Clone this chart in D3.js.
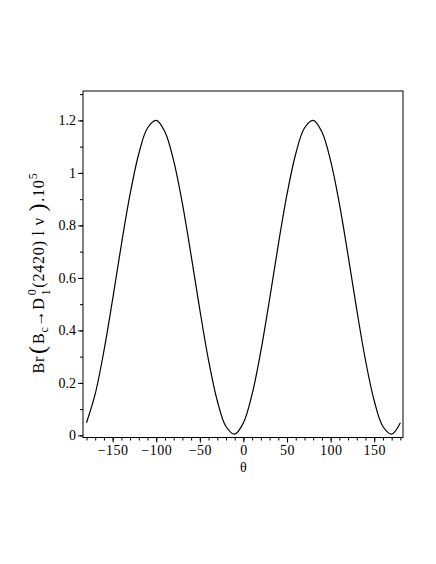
<!DOCTYPE html>
<html>
<head>
<meta charset="utf-8">
<script src="https://cdn.jsdelivr.net/npm/d3@7"></script>
<style>
  body { margin: 0; background: #fff; }
  text { font-family: "Liberation Serif", "DejaVu Serif", serif; fill: #000; }
</style>
</head>
<body>
<div id="chart"></div>
<script>
// theta in degrees, branching ratio (x 10^5)
const theta = [-180, -170, -160, -150, -140, -130, -120, -110, -100, -90,
  -80, -70, -60, -50, -40, -30, -20, -10, 0, 10, 20, 30, 40, 50, 60, 70,
  80, 90, 100, 110, 120, 130, 140, 150, 160, 170, 180];
const br = [0.048, 0.158, 0.322, 0.519, 0.727, 0.919, 1.073, 1.171, 1.200, 1.156,
  1.046, 0.883, 0.686, 0.478, 0.286, 0.132, 0.034, 0.005, 0.048, 0.158, 0.322,
  0.519, 0.727, 0.919, 1.073, 1.171, 1.200, 1.156, 1.046, 0.883, 0.686, 0.478,
  0.286, 0.132, 0.034, 0.005, 0.048];
const xTicks = [-150, -100, -50, 0, 50, 100, 150];
const yTicks = [0, 0.2, 0.4, 0.6, 0.8, 1, 1.2];

const width = 436, height = 564;
const plotLeft = 83, plotRight = 403, plotTop = 91, plotBottom = 437.5;

const svg = d3.select('#chart').append('svg')
    .attr('width', width)
    .attr('height', height);

const x = d3.scaleLinear().domain([-184, 183]).range([plotLeft, plotRight]);
const y = d3.scaleLinear().domain([-0.008, 1.312]).range([plotBottom, plotTop]);

// frame
svg.append('rect')
    .attr('x', plotLeft).attr('y', plotTop)
    .attr('width', plotRight - plotLeft).attr('height', plotBottom - plotTop)
    .attr('fill', 'none').attr('stroke', '#000').attr('stroke-width', 1);

// minor ticks
const xMinor = d3.range(-180, 181, 10);
const yMinor = d3.range(0, 1.31, 0.1);
svg.append('g')
    .attr('transform', `translate(0,${plotBottom})`)
    .call(d3.axisBottom(x).tickValues(xMinor).tickSize(3).tickFormat(''))
    .call(g => g.select('.domain').remove());
svg.append('g')
    .attr('transform', `translate(${plotLeft},0)`)
    .call(d3.axisLeft(y).tickValues(yMinor).tickSize(3).tickFormat(''))
    .call(g => g.select('.domain').remove());

// major ticks
const fmtX = d => d < 0 ? '\u2212' + Math.abs(d) : String(d);
svg.append('g')
    .attr('transform', `translate(0,${plotBottom})`)
    .call(d3.axisBottom(x).tickValues(xTicks).tickSize(5).tickPadding(3).tickFormat(fmtX))
    .call(g => g.select('.domain').remove())
    .selectAll('text')
    .style('font-size', '14px')
    .style('letter-spacing', '0.5px')
    .style('font-family', '"Liberation Serif", serif');
svg.append('g')
    .attr('transform', `translate(${plotLeft},0)`)
    .call(d3.axisLeft(y).tickValues(yTicks).tickSize(5).tickPadding(2).tickFormat(d => String(d)))
    .call(g => g.select('.domain').remove())
    .selectAll('text')
    .style('font-size', '14px')
    .style('font-family', '"Liberation Serif", serif');

// curve
const line = d3.line()
    .x((d, i) => x(theta[i]))
    .y(d => y(d))
    .curve(d3.curveCatmullRom.alpha(0.5));
svg.append('path')
    .datum(br)
    .attr('d', line)
    .attr('fill', 'none')
    .attr('stroke', '#000')
    .attr('stroke-width', 1.2);

// x label
svg.append('text')
    .attr('x', x(0)).attr('y', 472)
    .attr('text-anchor', 'middle')
    .style('font-size', '14px')
    .text('\u03b8');

// y label
const yl = svg.append('text')
    .attr('transform', 'translate(44,273) rotate(-90)')
    .attr('text-anchor', 'middle')
    .style('font-size', '16px');
yl.append('tspan').text('Br');
yl.append('tspan').style('font-size', '24px').attr('dx', 2).attr('dy', 1).text('(');
yl.append('tspan').attr('dx', 1).attr('dy', -1).text('B');
yl.append('tspan').style('font-size', '12px').attr('dy', 4).text('c');
yl.append('tspan').attr('dy', -4).text('\u2192D');
yl.append('tspan').style('font-size', '12px').attr('dx', 2).attr('dy', -8).text('0');
yl.append('tspan').style('font-size', '12px').attr('dx', -7).attr('dy', 14).text('1');
yl.append('tspan').attr('dx', 1).attr('dy', -6).text('(2420) l \u03bd ');
yl.append('tspan').style('font-size', '24px').attr('dx', 1).attr('dy', 1).text(')');
yl.append('tspan').attr('dx', 1).attr('dy', -1).text('.10');
yl.append('tspan').style('font-size', '12px').attr('dy', -7).text('5');
yl.selectAll('tspan').style('letter-spacing', '0.8px');
</script>
</body>
</html>
